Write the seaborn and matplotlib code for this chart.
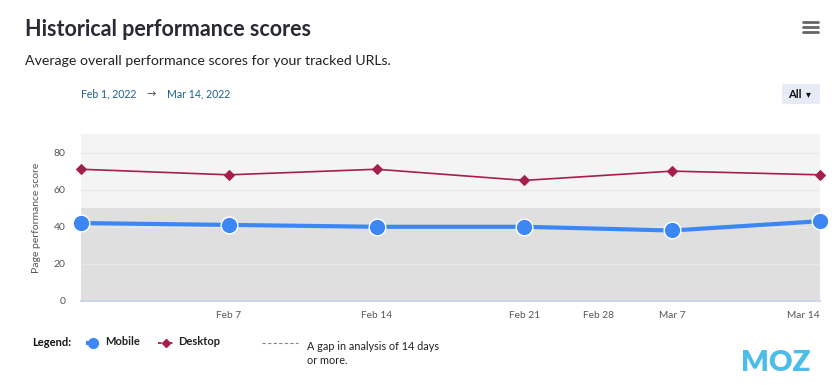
import matplotlib
matplotlib.use("Agg")
import matplotlib.pyplot as plt
import matplotlib.patches as mpatches
from matplotlib.lines import Line2D
import seaborn as sns
import pandas as pd

# ---- data ----
point_index = [0, 1, 2, 3, 4, 5]
point_dates = ["Feb 1", "Feb 7", "Feb 14", "Feb 21", "Mar 7", "Mar 14"]
mobile = [42, 41, 40, 40, 38, 43]
desktop = [71, 68, 71, 65, 70, 68]
tick_pos = [1, 2, 3, 3.5, 4, 5]
tick_labels = ["Feb 7", "Feb 14", "Feb 21", "Feb 28", "Mar 7", "Mar 14"]
y_ticks = [0, 20, 40, 60, 80]

sns.set_theme(style="white")
plt.rcParams["font.family"] = ["Lato", "DejaVu Sans"]

W, H = 838, 385
fig = plt.figure(figsize=(W / 100, H / 100), dpi=100)
fig.patch.set_facecolor("white")

ax = fig.add_axes([81 / W, 1 - 301 / H, (820 - 81) / W, (301 - 134) / H])
ax.set_xlim(0, 5)
ax.set_ylim(0, 90)
ax.axhspan(0, 50, color="#dfdfdf", zorder=0, lw=0)
ax.axhspan(50, 90, color="#f4f4f4", zorder=0, lw=0)
for yv in y_ticks[1:]:
    ax.axhline(yv, color="#e8e8e8", lw=1, zorder=1)

df_d = pd.DataFrame({"x": point_index, "y": desktop})
df_m = pd.DataFrame({"x": point_index, "y": mobile})
sns.lineplot(data=df_d, x="x", y="y", ax=ax, color="#a51f4b", lw=1.2,
             marker="D", markersize=5, markeredgecolor="#a51f4b",
             zorder=3, clip_on=False)
sns.lineplot(data=df_m, x="x", y="y", ax=ax, color="#3d87f5", lw=3,
             marker="o", markersize=12, markeredgecolor="white",
             markeredgewidth=1.0, zorder=4, clip_on=False)

ax.set_xticks(tick_pos)
ax.set_xticklabels(tick_labels, fontsize=7.3, color="#555555")
xt = ax.get_xticklabels()
xt[-1].set_ha("right")
xt[-1].set_x(5)
ax.set_yticks(y_ticks)
ax.set_yticklabels([str(v) for v in y_ticks], fontsize=7.5, color="#555555")
ax.tick_params(axis="x", length=6, width=1, color="#ccd6eb", pad=1)
ax.tick_params(axis="y", length=0, pad=11)
ax.set_xlabel("")
ax.set_ylabel("Page performance score", fontsize=7.5, color="#555555", labelpad=9)
for s in ["top", "right", "left"]:
    ax.spines[s].set_visible(False)
ax.spines["bottom"].set_color("#ccd6eb")
ax.spines["bottom"].set_linewidth(1.5)

# ---- header texts ----
fig.text(25 / W, 1 - 30 / H, "Historical performance scores", fontsize=15.5,
         fontweight="bold", color="#2a2a35", va="center", ha="left")
fig.text(25 / W, 1 - 61 / H, "Average overall performance scores for your tracked URLs.",
         fontsize=10.2, color="#222222", va="center", ha="left")
fig.text(81 / W, 1 - 94 / H, "Feb 1, 2022", fontsize=7.6, color="#1c5f8a",
         va="center", ha="left")
fig.text(146 / W, 1 - 94 / H, "\u2192", fontsize=8, color="#555555",
         va="center", ha="left", family="DejaVu Sans")
fig.text(167 / W, 1 - 94 / H, "Mar 14, 2022", fontsize=7.6, color="#1c5f8a",
         va="center", ha="left")

# All button
btn = mpatches.FancyBboxPatch((782 / W, 1 - 104 / H), 38 / W, 20 / H,
                              boxstyle="round,pad=0,rounding_size=0.004",
                              transform=fig.transFigure, facecolor="#e6ebf5",
                              edgecolor="none")
fig.patches.append(btn)
fig.text(795 / W, 1 - 94 / H, "All", fontsize=8, fontweight="bold",
         color="#111111", va="center", ha="center")
fig.text(808 / W, 1 - 94 / H, "\u25BE", fontsize=7, color="#111111",
         va="center", ha="center", family="DejaVu Sans")

# hamburger
for yy in [22, 27, 32]:
    fig.add_artist(Line2D([803 / W, 818 / W], [1 - yy / H, 1 - yy / H],
                          color="#666666", lw=2, transform=fig.transFigure))

# ---- legend ----
ly = 1 - 343 / H
fig.text(32 / W, ly, "Legend:", fontsize=8, fontweight="bold", color="#111111",
         va="center", ha="left")
fig.add_artist(Line2D([86 / W, 100 / W], [ly, ly], color="#3d87f5", lw=3,
                      ls=(0, (1, 1)), transform=fig.transFigure))
fig.add_artist(Line2D([93 / W], [ly], color="#3d87f5", marker="o", markersize=7,
                      transform=fig.transFigure))
fig.text(105 / W, ly + 0.003, "Mobile", fontsize=8, fontweight="bold",
         color="#222222", va="center", ha="left")
fig.add_artist(Line2D([158 / W, 173 / W], [ly, ly], color="#a51f4b", lw=1.3,
                      ls=(0, (2, 1)), transform=fig.transFigure))
fig.add_artist(Line2D([165.5 / W], [ly], color="#a51f4b", marker="D", markersize=4,
                      transform=fig.transFigure))
fig.text(178 / W, ly + 0.003, "Desktop", fontsize=8, fontweight="bold",
         color="#222222", va="center", ha="left")
fig.add_artist(Line2D([262 / W, 298 / W], [ly, ly], color="#888888", lw=0.8,
                      ls=(0, (3, 2)), transform=fig.transFigure))
fig.text(307 / W, 1 - 346 / H, "A gap in analysis of 14 days", fontsize=7.8,
         color="#222222", va="center", ha="left")
fig.text(307 / W, 1 - 361 / H, "or more.", fontsize=7.8,
         color="#222222", va="center", ha="left")

# MOZ logo
fig.text(776 / W, 1 - 363 / H, "MOZ", fontsize=21, fontweight="heavy",
         color="#4cbde9", va="center", ha="center")

fig.savefig("out.png", dpi=100, facecolor="white")
